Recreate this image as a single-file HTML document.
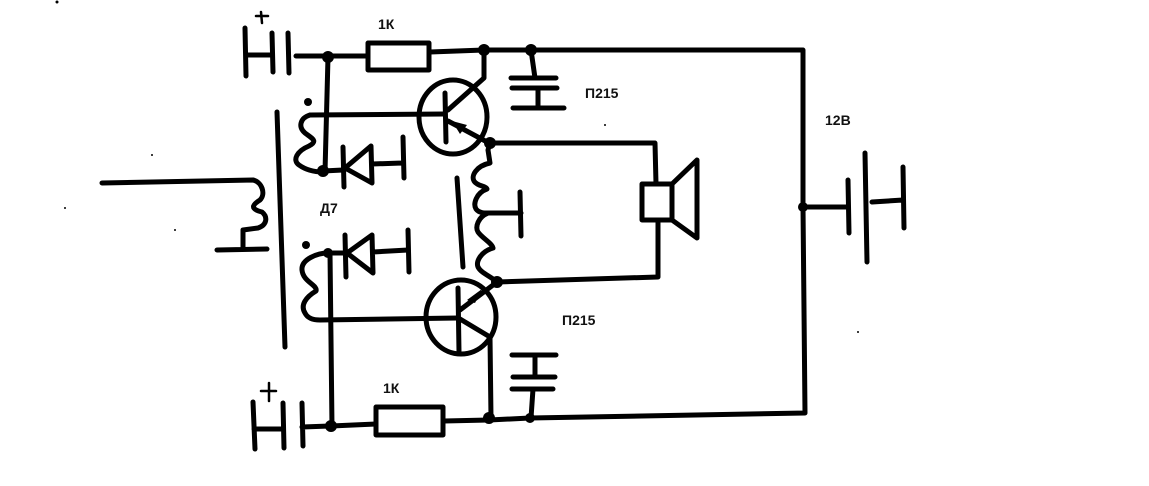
<!DOCTYPE html>
<html><head><meta charset="utf-8"><style>
html,body{margin:0;padding:0;background:#fff;}
svg{display:block;}
text{font-family:"Liberation Sans","DejaVu Sans",sans-serif;font-weight:bold;font-size:14px;fill:#111;}
</style></head><body>
<svg width="1149" height="486" viewBox="0 0 1149 486" xmlns="http://www.w3.org/2000/svg">
<rect width="1149" height="486" fill="#fff"/>
<g fill="none" stroke="#000" stroke-width="5" stroke-linecap="round" stroke-linejoin="round">
  <!-- top-left capacitor -->
  <path d="M245,28 L246,76 M246,55 L272,55 M272,33 L273,72 M288,33 L289,73 M296,56 L367,56"/>
  <!-- top resistor -->
  <rect x="368" y="43" width="61" height="27"/>
  <path d="M430,52 L484,50 L803,50 L803,207 L805,413 L530,418 L489,420 L444,421"/>
  <!-- top cap -->
  <path d="M531,50 L535,78 M511,78 L556,78 M512,88 L557,88 M538,88 L538,108 M513,108 L564,108"/>
  <!-- left vertical wire top -->
  <path d="M328,57 L325,172"/>
  <!-- upper coil -->
  <path d="M310,115 C300,118 298,127 305,133 C313,139 318,141 309,146 C297,151 292,160 299,165 C306,170 314,172 323,172"/>
  <path d="M310,115 L444,114"/>
  <!-- upper diode -->
  <path d="M323,171 L343,170 M343,147 L344,187 M345,168 L371,146 L372,183 Z M372,164 L402,163 M403,137 L404,178"/>
  <!-- top transistor -->
  <ellipse cx="453" cy="117" rx="34" ry="37"/>
  <path d="M445,93 L446,142 M484,50 L484,78 L448,110 M448,121 L489,143"/>
  <!-- output line to speaker -->
  <path d="M490,143 L655,143 L656,184"/>
  <!-- speaker -->
  <rect x="642" y="184" width="30" height="36"/>
  <path d="M672,184 L697,160 L697,238 L672,220 M658,220 L658,277 L497,282"/>
  <!-- output coil -->
  <path d="M490,143 L488,150 L490,163 C476,166 471,176 474,181 C477,186 486,186 487,189 C476,193 473,204 476,209 C479,213 484,213 488,213 C478,217 475,227 478,232 C482,238 492,243 493,248 C480,252 476,262 478,267 C481,273 490,276 497,282"/>
  <path d="M488,213 L521,213 M520,192 L521,236"/>
  <path d="M457,178 L463,267"/>
  <!-- transformer core left -->
  <path d="M277,112 L285,347"/>
  <!-- primary -->
  <path d="M102,183 L253,180 C262,182 266,194 260,200 C252,205 250,209 262,212 C268,217 267,225 258,228 L243,230 L243,249 M217,250 L267,249"/>
  <!-- lower diode -->
  <path d="M328,253 L345,253 M345,235 L346,277 M347,253 L372,235 L373,273 Z M373,252 L408,250 M408,230 L409,272"/>
  <!-- lower coil -->
  <path d="M328,253 C318,253 301,259 302,270 C303,282 318,285 316,291 C306,297 300,305 305,313 C308,319 314,320 320,320 L458,318"/>
  <path d="M330,253 L332,427"/>
  <!-- bottom transistor -->
  <ellipse cx="461" cy="317" rx="35" ry="37"/>
  <path d="M458,288 L459,352 M460,310 L497,282 M460,319 L490,337 L491,418"/>
  <!-- bottom cap -->
  <path d="M512,355 L556,355 M535,355 L535,375 M513,377 L555,377 M512,389 L553,389 M533,389 L531,418"/>
  <!-- bottom resistor -->
  <rect x="376" y="407" width="67" height="28"/>
  <path d="M331,426 L376,424"/>
  <!-- bottom-left capacitor -->
  <path d="M253,402 L255,449 M254,429 L283,429 M283,403 L284,448 M302,403 L303,446 M302,427 L330,426"/>
  <!-- battery 12V -->
  <path d="M803,207 L848,207 M848,180 L849,233 M865,153 L867,262 M872,202 L903,200 M903,167 L904,228"/>
  <!-- plus signs -->
  <path d="M256,16 L268,16 M261,12 L262,23" stroke-width="2.5"/>
  <path d="M261,391 L276,391 M269,383 L269,401" stroke-width="2.5"/>
</g>
<g fill="#000">
  <!-- arrowheads -->
  <polygon points="452,121 467,125 460,134"/>
  <polygon points="467,300 482,289 475,303" />
  <!-- junction dots -->
  <circle cx="328" cy="57" r="6"/>
  <circle cx="484" cy="50" r="6"/>
  <circle cx="531" cy="50" r="6"/>
  <circle cx="323" cy="171" r="6"/>
  <circle cx="490" cy="143" r="6"/>
  <circle cx="328" cy="253" r="5"/>
  <circle cx="497" cy="282" r="6"/>
  <circle cx="331" cy="426" r="6"/>
  <circle cx="489" cy="418" r="6"/>
  <circle cx="530" cy="418" r="5"/>
  <circle cx="803" cy="207" r="5"/>
  <circle cx="308" cy="102" r="4"/>
  <circle cx="306" cy="245" r="4"/>
  <!-- stray specks -->
  <circle cx="57" cy="2" r="1.5"/>
  <circle cx="152" cy="155" r="1"/>
  <circle cx="175" cy="230" r="1"/>
  <circle cx="65" cy="208" r="1"/>
  <circle cx="605" cy="125" r="1"/>
  <circle cx="858" cy="332" r="1"/>
</g>
<text x="378" y="29" font-size="13">1К</text>
<text x="585" y="98">П215</text>
<text x="562" y="325">П215</text>
<text x="383" y="393" font-size="13">1К</text>
<text x="320" y="213">Д7</text>
<text x="825" y="125">12В</text>
</svg>
</body></html>
